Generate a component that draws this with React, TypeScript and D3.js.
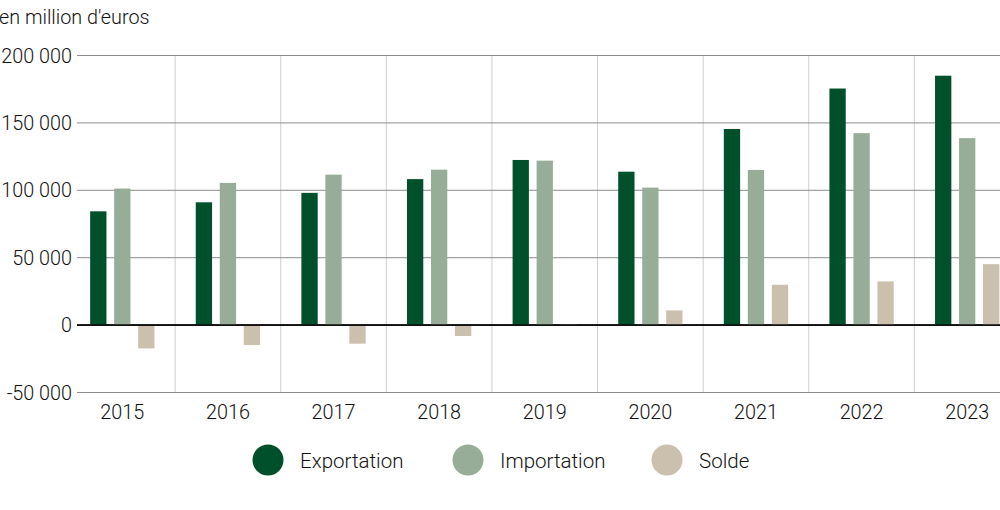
import React from "react";
import * as d3 from "d3";

const years = ["2015", "2016", "2017", "2018", "2019", "2020", "2021", "2022", "2023"];
const exportation = [84400, 91100, 98100, 108300, 122500, 113800, 145500, 175500, 185000];
const importation = [101300, 105500, 111600, 115300, 122000, 102000, 115100, 142400, 138700];
const solde = [-17300, -14800, -13800, -8100, 500, 10900, 29900, 32400, 45200];
const yTicks = [-50000, 0, 50000, 100000, 150000, 200000];
const seriesNames = ["Exportation", "Importation", "Solde"];
const colors = ["#00502C", "#97AD97", "#CBBFAD"];

const W = 1000;
const H = 510;
const FONT = "Roboto, 'Open Sans', sans-serif";

export default function App() {
  const x = d3.scaleBand<string>().domain(years).range([69.5, 1020]).padding(0);
  const y = d3.scaleLinear().domain([-50000, 200000]).range([392.5, 55.5]);
  const series = [exportation, importation, solde];
  const fmt = (v: number) => d3.format(",")(v).replace(/,/g, " ").replace("\u2212", "-");
  const barW = 16.3;
  const pitch = 24;
  const gridLeft = 77;

  return (
    <svg width={W} height={H} style={{ position: "absolute", left: 0, top: 0, background: "#fff" }} fontFamily={FONT} fontWeight={300}>
      <text x={-1} y={24} fontSize={19.8} fill="#111">en million d'euros</text>
      {years.slice(1).map((yr) => (
        <line key={"v" + yr} x1={x(yr)!} x2={x(yr)!} y1={y(200000)} y2={y(-50000)} stroke="#cfcfcf" strokeWidth={1} />
      ))}
      {yTicks.map((t) => (
        <g key={"h" + t}>
          <line x1={gridLeft} x2={W} y1={y(t)} y2={y(t)} stroke={t === 0 ? "#111" : "#8c8c8c"} strokeWidth={t === 0 ? 1.6 : 1} />
          <text x={72} y={y(t) + 7} textAnchor="end" fontSize={19.8} fill="#111">{fmt(t)}</text>
        </g>
      ))}
      {series.map((s, si) =>
        s.map((v, i) => {
          const cx = x(years[i])! + x.bandwidth() / 2 + (si - 1) * pitch;
          const y0 = y(0);
          const yv = y(v);
          return (
            <rect key={si + "-" + i} x={cx - barW / 2} width={barW} y={Math.min(y0, yv)} height={Math.abs(yv - y0)} fill={colors[si]} />
          );
        })
      )}
      <line x1={gridLeft} x2={W} y1={y(0)} y2={y(0)} stroke="#111" strokeWidth={1.6} />
      {years.map((yr) => (
        <text key={"l" + yr} x={x(yr)! + x.bandwidth() / 2} y={419} textAnchor="middle" fontSize={19.8} fill="#111">{yr}</text>
      ))}
      {seriesNames.map((n, i) => {
        const lx = [268, 468, 667][i];
        return (
          <g key={n}>
            <circle cx={lx} cy={460} r={15.5} fill={colors[i]} />
            <text x={lx + 32} y={467.5} fontSize={20.5} fill="#111">{n}</text>
          </g>
        );
      })}
    </svg>
  );
}
